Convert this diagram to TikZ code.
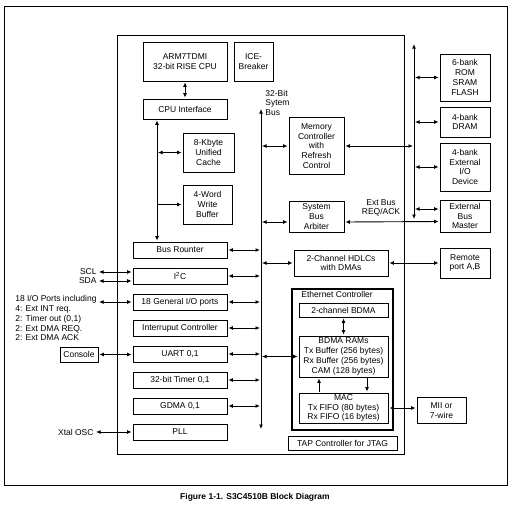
\documentclass[tikz,border=0pt]{standalone}
\usepackage{fontspec}
\setmainfont{Liberation Sans}
\usetikzlibrary{arrows.meta}

\begin{document}
\begin{tikzpicture}[x=1pt,y=-1pt,
    font=\fontsize{8.5}{9.7}\selectfont,
    blk/.style={draw,line width=0.8pt,inner sep=0pt,align=center},
    sz/.style 2 args={minimum width=#1pt,minimum height=#2pt},
    txt/.style={inner sep=1pt},
    >={Latex[length=4.5pt,width=4pt]},line width=0.9pt]
  \useasboundingbox (0,0) rectangle (512,520);
  % frames
  \draw[line width=0.8pt] (4,6) rectangle (507,485);
  \draw[line width=0.8pt] (117,35) rectangle (404,454);
  % cpu side
  \draw
    (185,61.5) node[blk,sz={84}{39}] (arm) {ARM7TDMI\\32-bit RISE CPU}
    (253.5,61.5) node[blk,sz={39}{39}] (ice) {ICE-\\Breaker}
    (185,109) node[blk,sz={84}{20}] (cpuif) {CPU Interface}
    (208.5,152.5) node[blk,sz={51}{39}] (cache) {8-Kbyte\\Unified\\Cache}
    (207.5,204.5) node[blk,sz={49}{39}] (wbuf) {4-Word\\Write\\Buffer};
  % peripherals
  \draw
    (180,250) node[blk,sz={94}{16}] (busr) {Bus Rounter}
    (180,276) node[blk,sz={94}{16}] (i2c) {I\textsuperscript{2}C}
    (180,302) node[blk,sz={94}{16}] (gpio) {18 General I/O ports}
    (180,328) node[blk,sz={94}{16}] (intc) {Interruput Controller}
    (180,354) node[blk,sz={94}{16}] (uart) {UART 0,1}
    (180,380) node[blk,sz={94}{16}] (timer) {32-bit Timer 0,1}
    (180,406) node[blk,sz={94}{16}] (gdma) {GDMA 0,1}
    (180,432) node[blk,sz={94}{16}] (pll) {PLL};
  % bus side
  \draw
    (316.5,146) node[blk,sz={55}{57}] (memctl) {Memory\\Controller\\with\\Refresh\\Control}
    (316.5,216.5) node[blk,sz={55}{31}] (arbiter) {System\\Bus\\Arbiter}
    (341,263) node[blk,sz={94}{26}] (hdlc) {2-Channel HDLCs\\with DMAs}
    (342.5,359.5) node[draw,line width=1.3pt,sz={101}{141}] (eth) {}
    (343.5,310) node[blk,sz={89}{14}] (bdma) {2-channel BDMA}
    (343.5,356.5) node[blk,sz={89}{41},font=\fontsize{8.5}{10.2}\selectfont] (rams) {BDMA RAMs\\Tx Buffer (256 bytes)\\Rx Buffer (256 bytes)\\CAM (128 bytes)}
    (343.5,408) node[blk,sz={89}{30}] (mac) {MAC\\Tx FIFO (80 bytes)\\Rx FIFO (16 bytes)}
    (342.5,443) node[blk,sz={109}{14}] (tap) {TAP Controller for JTAG};
  \node[anchor=north west,inner sep=0pt] (ethlbl) at (301,290.5) {Ethernet Controller};
  % outside
  \draw
    (465,77.5) node[blk,sz={50}{47}] (rom) {6-bank\\ROM\\SRAM\\FLASH}
    (465,122) node[blk,sz={50}{30}] (dram) {4-bank\\DRAM}
    (465,167) node[blk,sz={50}{48}] (extio) {4-bank\\External\\I/O\\Device}
    (465,216) node[blk,sz={50}{32}] (xbm) {External\\Bus\\Master}
    (465,263) node[blk,sz={50}{30}] (remote) {Remote\\port A,B}
    (441.5,410.5) node[blk,sz={49}{26}] (mii) {MII or\\7-wire}
    (79,354.5) node[blk,sz={38}{15}] (con) {Console};
  \node[txt,anchor=east] (scl) at (98,272) {SCL};
  \node[txt,anchor=east] (sda) at (98,281) {SDA};
  \node[txt,anchor=east] (iotxt) at (98,299.5) {18 I/O Ports including};
  \node[anchor=north west,align=left,inner sep=0pt] (iolist) at (15,305.5)
    {4: Ext INT req.\\2: Timer out (0,1)\\2: Ext DMA REQ.\\2: Ext DMA ACK};
  \node[txt,anchor=east] (xtal) at (95,432) {Xtal OSC};
  \node[anchor=north west,align=left,inner sep=0pt] (sblbl) at (265,89.5) {32-Bit\\Sytem\\Bus};
  \node[align=center,inner sep=0pt] (reqack) at (381,208) {Ext Bus\\REQ/ACK};
  \node[font=\fontsize{8.5}{10}\selectfont\bfseries] (caption) at (255,497)
    {Figure 1-1. S3C4510B Block Diagram};
  % bus lines
  \coordinate (lbus) at (157,150);
  \coordinate (sbtop) at (261,108);
  \coordinate (sbbot) at (261,430);
  \coordinate (xbtop) at (414,43);
  \coordinate (xbbot) at (414,220);
  \begin{scope}[<->,shorten <=1pt,shorten >=1pt]
    \draw (sbtop) to (sbbot);
    \draw (xbtop) to (xbbot);
    \draw (arm) to (cpuif);
    \draw (cpuif.south -| lbus) to (busr.north -| lbus);
    \draw (lbus |- cache) to (cache.west);
    \draw[->] (lbus |- wbuf) to (wbuf.west);
    \draw (busr.east) to (busr -| sbtop);
    \draw (i2c.east) to (i2c -| sbtop);
    \draw (gpio.east) to (gpio -| sbtop);
    \draw (intc.east) to (intc -| sbtop);
    \draw (uart.east) to (uart -| sbtop);
    \draw (timer.east) to (timer -| sbtop);
    \draw (gdma.east) to (gdma -| sbtop);
    \draw (memctl -| sbtop) to (memctl.west);
    \draw ([yshift=-5.5pt]arbiter.west -| sbtop) to ([yshift=-5.5pt]arbiter.west);
    \draw (hdlc -| sbtop) to (hdlc.west);
    \draw (rams -| sbtop) to (rams.west);
    \draw (memctl.east) to (memctl -| xbtop);
    \draw ([yshift=-5.5pt]arbiter.east) to ([yshift=-5.5pt]xbm.west);
    \draw (rom -| xbtop) to (rom.west);
    \draw (dram -| xbtop) to (dram.west);
    \draw (extio -| xbtop) to (extio.west);
    \draw ([yshift=7pt]xbm.west -| xbtop) to ([yshift=7pt]xbm.west);
    \draw (hdlc) to (remote);
    \draw (bdma) to (rams);
    \draw[->] ([xshift=-24.5pt]mac.north) to ([xshift=-24.5pt]rams.south);
    \draw[<-] ([xshift=23.5pt]mac.north) to ([xshift=23.5pt]rams.south);
    \draw (mac.east) to (mac.east -| mii.west);
    \draw (scl.east) to (scl.east -| i2c.west);
    \draw (sda.east) to (sda.east -| i2c.west);
    \draw (iotxt.east |- gpio) to (gpio.west);
    \draw (con.east) to (con.east -| uart.west);
    \draw (xtal) to (pll);
  \end{scope}
\end{tikzpicture}
\end{document}
